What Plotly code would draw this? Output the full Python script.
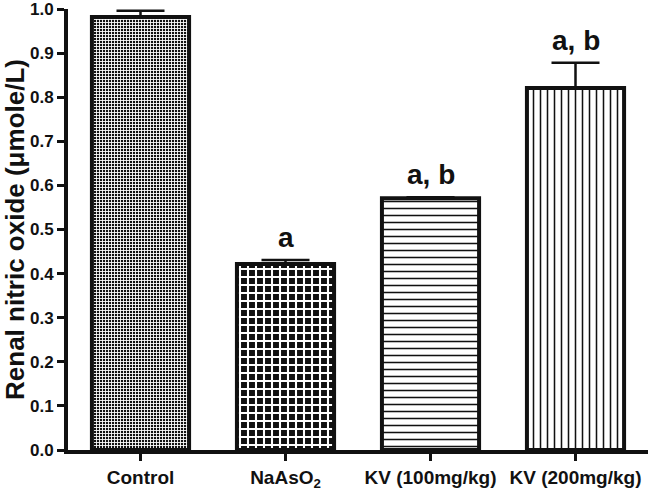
import plotly.graph_objects as go

categories = ["Control", "NaAsO<sub>2</sub>", "KV (100mg/kg)", "KV (200mg/kg)"]
means = [0.982, 0.422, 0.571, 0.821]
errors = [0.014, 0.009, 0.002, 0.057]
letters = ["", "a", "a, b", "a, b"]
y_ticks = [0.0, 0.1, 0.2, 0.3, 0.4, 0.5, 0.6, 0.7, 0.8, 0.9, 1.0]

pattern_shapes = ["+", "+", "-", "|"]
pattern_sizes = [3, 8, 7, 7]
pattern_fg = ["white", "white", "#111111", "#111111"]
pattern_bg = ["#111111", "#111111", "white", "white"]
pattern_solidity = [0.5, 0.45, 0.22, 0.22]

FONT = "Liberation Sans, Arial, sans-serif"

fig = go.Figure()
for i, cat in enumerate(categories):
    fig.add_trace(go.Bar(
        x=[i], y=[means[i]], width=0.67,
        marker=dict(
            color="white",
            line=dict(color="#111111", width=4),
            pattern=dict(shape=pattern_shapes[i], size=pattern_sizes[i],
                         solidity=pattern_solidity[i], fgcolor=pattern_fg[i],
                         bgcolor=pattern_bg[i], fillmode="replace"),
        ),
        error_y=dict(type="data", symmetric=False, array=[errors[i]],
                     arrayminus=[0], color="#111111", thickness=2.5, width=24),
        showlegend=False,
        hoverinfo="skip",
    ))
    if letters[i]:
        fig.add_annotation(x=i, y=means[i] + errors[i], text=letters[i],
                           showarrow=False, yanchor="bottom", yshift=5,
                           font=dict(family=FONT, size=28, color="#111111", weight="bold"))

fig.update_layout(
    width=652, height=503,
    margin=dict(l=68, r=4, t=9, b=53),
    plot_bgcolor="white", paper_bgcolor="white",
    font=dict(family=FONT, color="#111111", weight="bold"),
)
fig.update_xaxes(
    range=[-0.5, 3.5], tickmode="array", tickvals=list(range(len(categories))),
    ticktext=categories, ticks="outside", ticklen=7, tickwidth=3, tickcolor="#111111",
    showline=True, linewidth=4, linecolor="#111111", showgrid=False, zeroline=False,
    automargin=False,
    tickfont=dict(family=FONT, size=19, color="#111111", weight="bold"),
)
fig.update_yaxes(
    range=[0, 1.0], tickmode="array", tickvals=y_ticks,
    ticktext=[f"{v:.1f}" for v in y_ticks], ticks="outside", ticklen=7, tickwidth=3,
    tickcolor="#111111", showline=True, linewidth=4, linecolor="#111111",
    showgrid=False, zeroline=False, automargin=False, ticklabeloverflow="allow",
    tickfont=dict(family=FONT, size=17, color="#111111", weight="bold"),
    title=dict(text="Renal nitric oxide (\u03bcmole/L)", standoff=6,
               font=dict(family=FONT, size=26, color="#111111", weight="bold")),
)

fig.write_html("out.html", config={"displayModeBar": False},
               post_script="document.body.style.margin='0px';")
